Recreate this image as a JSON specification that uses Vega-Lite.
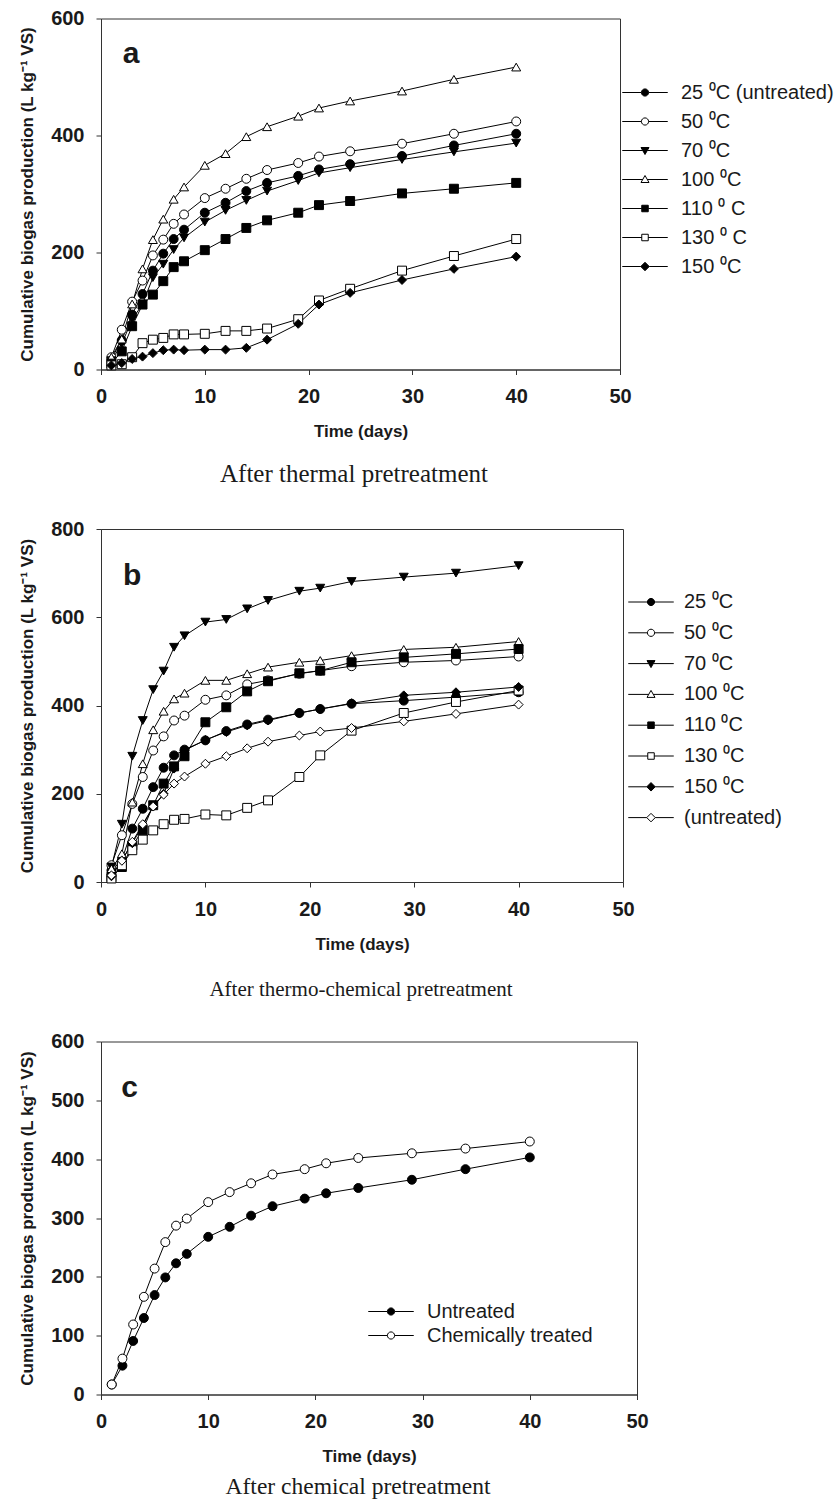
{
  "$schema": "https://vega.github.io/schema/vega-lite/v6.json",
  "background": "white",
  "padding": {"left": 18, "top": 7.5, "right": 2, "bottom": 2},
  "spacing": 30.5,
  "config": {
    "font": "Liberation Sans",
    "view": {"stroke": "#333333", "strokeWidth": 1},
    "axis": {"labelFont": "Liberation Sans", "labelFontWeight": "bold", "labelFontSize": 20, "labelColor": "#1a1a1a", "labelPadding": 12, "labelFlush": false, "labelOverlap": false, "titleFont": "Liberation Sans", "titleFontWeight": "bold", "titleFontSize": 17, "titleColor": "#1a1a1a", "domainColor": "#333333", "tickColor": "#333333", "tickSize": 5, "grid": false},
    "axisX": {"titlePadding": 17},
    "axisY": {"titlePadding": 14},
    "legend": {"labelFont": "Liberation Sans", "labelFontSize": 20, "labelColor": "#1a1a1a", "labelLimit": 400, "symbolSize": 100, "symbolStrokeColor": "black", "symbolStrokeWidth": 1, "symbolOpacity": 1, "padding": 0, "orient": "none"}
  },
  "datasets": {
    "a": [
      {"d": 1, "25 ⁰C (untreated)": 18, "50 ⁰C": 21, "70 ⁰C": 15, "100 ⁰C": 21, "110 ⁰ C": 10, "130 ⁰ C": 7, "150 ⁰C": 7},
      {"d": 2, "25 ⁰C (untreated)": 50, "50 ⁰C": 68, "70 ⁰C": 44, "100 ⁰C": 52, "110 ⁰ C": 31, "130 ⁰ C": 9, "150 ⁰C": 11},
      {"d": 3, "25 ⁰C (untreated)": 94, "50 ⁰C": 116, "70 ⁰C": 85, "100 ⁰C": 112, "110 ⁰ C": 74, "130 ⁰ C": 21, "150 ⁰C": 18},
      {"d": 4, "25 ⁰C (untreated)": 129, "50 ⁰C": 152, "70 ⁰C": 112, "100 ⁰C": 172, "110 ⁰ C": 111, "130 ⁰ C": 45, "150 ⁰C": 22},
      {"d": 5, "25 ⁰C (untreated)": 169, "50 ⁰C": 195, "70 ⁰C": 157, "100 ⁰C": 222, "110 ⁰ C": 128, "130 ⁰ C": 51, "150 ⁰C": 28},
      {"d": 6, "25 ⁰C (untreated)": 198, "50 ⁰C": 222, "70 ⁰C": 180, "100 ⁰C": 257, "110 ⁰ C": 151, "130 ⁰ C": 54, "150 ⁰C": 33},
      {"d": 7, "25 ⁰C (untreated)": 223, "50 ⁰C": 249, "70 ⁰C": 205, "100 ⁰C": 291, "110 ⁰ C": 175, "130 ⁰ C": 60, "150 ⁰C": 34},
      {"d": 8, "25 ⁰C (untreated)": 239, "50 ⁰C": 265, "70 ⁰C": 225, "100 ⁰C": 312, "110 ⁰ C": 185, "130 ⁰ C": 60, "150 ⁰C": 33},
      {"d": 10, "25 ⁰C (untreated)": 268, "50 ⁰C": 293, "70 ⁰C": 252, "100 ⁰C": 349, "110 ⁰ C": 204, "130 ⁰ C": 61, "150 ⁰C": 34},
      {"d": 12, "25 ⁰C (untreated)": 285, "50 ⁰C": 309, "70 ⁰C": 272, "100 ⁰C": 369, "110 ⁰ C": 223, "130 ⁰ C": 66, "150 ⁰C": 34},
      {"d": 14, "25 ⁰C (untreated)": 305, "50 ⁰C": 326, "70 ⁰C": 289, "100 ⁰C": 398, "110 ⁰ C": 242, "130 ⁰ C": 66, "150 ⁰C": 37},
      {"d": 16, "25 ⁰C (untreated)": 319, "50 ⁰C": 341, "70 ⁰C": 305, "100 ⁰C": 415, "110 ⁰ C": 255, "130 ⁰ C": 70, "150 ⁰C": 51},
      {"d": 19, "25 ⁰C (untreated)": 331, "50 ⁰C": 353, "70 ⁰C": 323, "100 ⁰C": 433, "110 ⁰ C": 268, "130 ⁰ C": 86, "150 ⁰C": 78},
      {"d": 21, "25 ⁰C (untreated)": 342, "50 ⁰C": 364, "70 ⁰C": 336, "100 ⁰C": 447, "110 ⁰ C": 281, "130 ⁰ C": 118, "150 ⁰C": 111},
      {"d": 24, "25 ⁰C (untreated)": 351, "50 ⁰C": 373, "70 ⁰C": 345, "100 ⁰C": 459, "110 ⁰ C": 288, "130 ⁰ C": 138, "150 ⁰C": 131},
      {"d": 29, "25 ⁰C (untreated)": 365, "50 ⁰C": 386, "70 ⁰C": 359, "100 ⁰C": 476, "110 ⁰ C": 301, "130 ⁰ C": 169, "150 ⁰C": 153},
      {"d": 34, "25 ⁰C (untreated)": 383, "50 ⁰C": 403, "70 ⁰C": 372, "100 ⁰C": 496, "110 ⁰ C": 309, "130 ⁰ C": 194, "150 ⁰C": 172},
      {"d": 40, "25 ⁰C (untreated)": 403, "50 ⁰C": 424, "70 ⁰C": 387, "100 ⁰C": 517, "110 ⁰ C": 319, "130 ⁰ C": 223, "150 ⁰C": 193}
    ],
    "b": [
      {"d": 1, "25 ⁰C": 26, "50 ⁰C": 38, "70 ⁰C": 34, "100 ⁰C": 30, "110 ⁰C": 11, "130 ⁰C": 8, "150 ⁰C": 13, "(untreated)": 15},
      {"d": 2, "25 ⁰C": 50, "50 ⁰C": 106, "70 ⁰C": 131, "100 ⁰C": 64, "110 ⁰C": 34, "130 ⁰C": 38, "150 ⁰C": 49, "(untreated)": 48},
      {"d": 3, "25 ⁰C": 121, "50 ⁰C": 177, "70 ⁰C": 285, "100 ⁰C": 181, "110 ⁰C": 83, "130 ⁰C": 72, "150 ⁰C": 88, "(untreated)": 91},
      {"d": 4, "25 ⁰C": 166, "50 ⁰C": 238, "70 ⁰C": 366, "100 ⁰C": 268, "110 ⁰C": 117, "130 ⁰C": 96, "150 ⁰C": 128, "(untreated)": 131},
      {"d": 5, "25 ⁰C": 215, "50 ⁰C": 298, "70 ⁰C": 436, "100 ⁰C": 345, "110 ⁰C": 174, "130 ⁰C": 117, "150 ⁰C": 171, "(untreated)": 171},
      {"d": 6, "25 ⁰C": 259, "50 ⁰C": 330, "70 ⁰C": 478, "100 ⁰C": 387, "110 ⁰C": 223, "130 ⁰C": 131, "150 ⁰C": 200, "(untreated)": 198},
      {"d": 7, "25 ⁰C": 287, "50 ⁰C": 366, "70 ⁰C": 532, "100 ⁰C": 415, "110 ⁰C": 262, "130 ⁰C": 141, "150 ⁰C": 257, "(untreated)": 223},
      {"d": 8, "25 ⁰C": 300, "50 ⁰C": 377, "70 ⁰C": 558, "100 ⁰C": 428, "110 ⁰C": 285, "130 ⁰C": 143, "150 ⁰C": 298, "(untreated)": 239},
      {"d": 10, "25 ⁰C": 321, "50 ⁰C": 413, "70 ⁰C": 589, "100 ⁰C": 457, "110 ⁰C": 362, "130 ⁰C": 153, "150 ⁰C": 322, "(untreated)": 268},
      {"d": 12, "25 ⁰C": 342, "50 ⁰C": 423, "70 ⁰C": 595, "100 ⁰C": 457, "110 ⁰C": 396, "130 ⁰C": 151, "150 ⁰C": 340, "(untreated)": 285},
      {"d": 14, "25 ⁰C": 357, "50 ⁰C": 448, "70 ⁰C": 619, "100 ⁰C": 472, "110 ⁰C": 432, "130 ⁰C": 168, "150 ⁰C": 355, "(untreated)": 303},
      {"d": 16, "25 ⁰C": 368, "50 ⁰C": 457, "70 ⁰C": 638, "100 ⁰C": 487, "110 ⁰C": 455, "130 ⁰C": 185, "150 ⁰C": 366, "(untreated)": 318},
      {"d": 19, "25 ⁰C": 383, "50 ⁰C": 472, "70 ⁰C": 659, "100 ⁰C": 498, "110 ⁰C": 473, "130 ⁰C": 238, "150 ⁰C": 383, "(untreated)": 332},
      {"d": 21, "25 ⁰C": 392, "50 ⁰C": 479, "70 ⁰C": 666, "100 ⁰C": 502, "110 ⁰C": 479, "130 ⁰C": 287, "150 ⁰C": 392, "(untreated)": 341},
      {"d": 24, "25 ⁰C": 404, "50 ⁰C": 489, "70 ⁰C": 681, "100 ⁰C": 513, "110 ⁰C": 498, "130 ⁰C": 343, "150 ⁰C": 405, "(untreated)": 349},
      {"d": 29, "25 ⁰C": 411, "50 ⁰C": 498, "70 ⁰C": 691, "100 ⁰C": 527, "110 ⁰C": 509, "130 ⁰C": 383, "150 ⁰C": 423, "(untreated)": 364},
      {"d": 34, "25 ⁰C": 419, "50 ⁰C": 502, "70 ⁰C": 700, "100 ⁰C": 532, "110 ⁰C": 517, "130 ⁰C": 408, "150 ⁰C": 430, "(untreated)": 381},
      {"d": 40, "25 ⁰C": 430, "50 ⁰C": 511, "70 ⁰C": 717, "100 ⁰C": 545, "110 ⁰C": 528, "130 ⁰C": 434, "150 ⁰C": 442, "(untreated)": 402}
    ],
    "c": [
      {"d": 1, "Untreated": 17, "Chemically treated": 17},
      {"d": 2, "Untreated": 49, "Chemically treated": 61},
      {"d": 3, "Untreated": 91, "Chemically treated": 119},
      {"d": 4, "Untreated": 130, "Chemically treated": 166},
      {"d": 5, "Untreated": 169, "Chemically treated": 214},
      {"d": 6, "Untreated": 199, "Chemically treated": 259},
      {"d": 7, "Untreated": 223, "Chemically treated": 287},
      {"d": 8, "Untreated": 239, "Chemically treated": 299},
      {"d": 10, "Untreated": 268, "Chemically treated": 327},
      {"d": 12, "Untreated": 285, "Chemically treated": 344},
      {"d": 14, "Untreated": 304, "Chemically treated": 359},
      {"d": 16, "Untreated": 320, "Chemically treated": 374},
      {"d": 19, "Untreated": 333, "Chemically treated": 383},
      {"d": 21, "Untreated": 342, "Chemically treated": 393},
      {"d": 24, "Untreated": 351, "Chemically treated": 402},
      {"d": 29, "Untreated": 365, "Chemically treated": 410},
      {"d": 34, "Untreated": 383, "Chemically treated": 418},
      {"d": 40, "Untreated": 403, "Chemically treated": 430}
    ]
  },
  "resolve": {"scale": {"shape": "independent", "fill": "independent"}},
  "vconcat": [
    {
      "title": {"text": "After thermal pretreatment", "orient": "bottom", "anchor": "middle", "frame": "group", "dx": 253, "font": "Liberation Serif", "fontSize": 25, "fontWeight": "normal", "color": "#1a1a1a", "offset": 22},
      "resolve": {"scale": {"shape": "independent", "fill": "independent"}},
      "vconcat": [
        {
          "width": 519,
          "height": 351,
          "data": {"name": "a"},
          "transform": [{"fold": ["25 ⁰C (untreated)", "50 ⁰C", "70 ⁰C", "100 ⁰C", "110 ⁰ C", "130 ⁰ C", "150 ⁰C"], "as": ["s", "v"]}],
          "encoding": {
            "x": {"field": "d", "type": "quantitative", "scale": {"domain": [0, 50], "nice": false}, "axis": {"values": [0, 10, 20, 30, 40, 50], "title": "Time (days)"}},
            "y": {"field": "v", "type": "quantitative", "scale": {"domain": [0, 600], "nice": false}, "axis": {"values": [0, 200, 400, 600], "title": "Cumulative biogas production (L kg⁻¹ VS)"}}
          },
          "resolve": {"scale": {"shape": "independent", "fill": "independent"}},
          "layer": [
            {"mark": {"type": "line", "color": "black", "strokeWidth": 1}, "encoding": {"detail": {"field": "s"}}},
            {"mark": {"type": "point", "filled": true, "stroke": "black", "strokeWidth": 1, "opacity": 1, "size": 80},
             "encoding": {
               "shape": {"field": "s", "scale": {"domain": ["25 ⁰C (untreated)", "50 ⁰C", "70 ⁰C", "100 ⁰C", "110 ⁰ C", "130 ⁰ C", "150 ⁰C"], "range": ["circle", "circle", "triangle-down", "triangle-up", "square", "square", "diamond"]}, "legend": null},
               "fill": {"field": "s", "scale": {"domain": ["25 ⁰C (untreated)", "50 ⁰C", "70 ⁰C", "100 ⁰C", "110 ⁰ C", "130 ⁰ C", "150 ⁰C"], "range": ["black", "white", "black", "white", "black", "white", "black"]}, "legend": null}
             }},
            {"transform": [{"filter": "datum.d < 0"}],
             "mark": {"type": "point", "filled": true, "stroke": "black", "strokeWidth": 1, "opacity": 1, "size": 100},
             "encoding": {
               "shape": {"field": "s", "scale": {"domain": ["25 ⁰C (untreated)", "50 ⁰C", "70 ⁰C", "100 ⁰C", "110 ⁰ C", "130 ⁰ C", "150 ⁰C"], "range": [
                 "M-4.55,0H-0.72M0.72,0H4.55M0.72,0A0.72,0.72,0,1,1,-0.72,0A0.72,0.72,0,1,1,0.72,0Z",
                 "M-4.55,0H-0.72M0.72,0H4.55M0.72,0A0.72,0.72,0,1,1,-0.72,0A0.72,0.72,0,1,1,0.72,0Z",
                 "M-4.55,0H-0.45M0.45,0H4.55M0,0.8L0.8,-0.6L-0.8,-0.6Z",
                 "M-4.55,0H-0.45M0.45,0H4.55M0,-0.8L0.8,0.6L-0.8,0.6Z",
                 "M-4.55,0H-0.65M0.65,0H4.55M-0.65,-0.65H0.65V0.65H-0.65Z",
                 "M-4.55,0H-0.65M0.65,0H4.55M-0.65,-0.65H0.65V0.65H-0.65Z",
                 "M-4.55,0H-0.85M0.85,0H4.55M0,-0.85L0.85,0L0,0.85L-0.85,0Z"]},
                 "legend": {"title": null, "orient": "none", "legendX": 534, "legendY": 64, "rowPadding": 9, "labelOffset": 26, "encode": {"symbols": {"update": {"stroke": {"value": "black"}, "strokeWidth": {"value": 1}}}}}},
               "fill": {"field": "s", "scale": {"domain": ["25 ⁰C (untreated)", "50 ⁰C", "70 ⁰C", "100 ⁰C", "110 ⁰ C", "130 ⁰ C", "150 ⁰C"], "range": ["black", "white", "black", "white", "black", "white", "black"]},
                 "legend": {"title": null, "orient": "none", "legendX": 534, "legendY": 64, "rowPadding": 9, "labelOffset": 26, "encode": {"symbols": {"update": {"stroke": {"value": "black"}, "strokeWidth": {"value": 1}}}}}}
             }},
            {"transform": [{"filter": "datum.d == 1"}, {"filter": {"field": "s", "equal": "50 ⁰C"}}],
             "mark": {"type": "text", "text": "a", "font": "Liberation Sans", "fontSize": 30, "fontWeight": "bold", "fill": "#1a1a1a", "align": "left", "baseline": "alphabetic"},
             "encoding": {"x": {"datum": 2.1, "type": "quantitative"}, "y": {"datum": 524, "type": "quantitative"}}}
          ]
        }
      ]
    },
    {
      "title": {"text": "After thermo-chemical pretreatment", "orient": "bottom", "anchor": "middle", "frame": "group", "dx": 260, "font": "Liberation Serif", "fontSize": 21, "fontWeight": "normal", "color": "#1a1a1a", "offset": 26},
      "resolve": {"scale": {"shape": "independent", "fill": "independent"}},
      "vconcat": [
        {
          "width": 522,
          "height": 353,
          "data": {"name": "b"},
          "transform": [{"fold": ["25 ⁰C", "50 ⁰C", "70 ⁰C", "100 ⁰C", "110 ⁰C", "130 ⁰C", "150 ⁰C", "(untreated)"], "as": ["s", "v"]}],
          "encoding": {
            "x": {"field": "d", "type": "quantitative", "scale": {"domain": [0, 50], "nice": false}, "axis": {"values": [0, 10, 20, 30, 40, 50], "title": "Time (days)"}},
            "y": {"field": "v", "type": "quantitative", "scale": {"domain": [0, 800], "nice": false}, "axis": {"values": [0, 200, 400, 600, 800], "title": "Cumulative biogas production (L kg⁻¹ VS)"}}
          },
          "resolve": {"scale": {"shape": "independent", "fill": "independent"}},
          "layer": [
            {"mark": {"type": "line", "color": "black", "strokeWidth": 1}, "encoding": {"detail": {"field": "s"}}},
            {"mark": {"type": "point", "filled": true, "stroke": "black", "strokeWidth": 1, "opacity": 1, "size": 80},
             "encoding": {
               "shape": {"field": "s", "scale": {"domain": ["25 ⁰C", "50 ⁰C", "70 ⁰C", "100 ⁰C", "110 ⁰C", "130 ⁰C", "150 ⁰C", "(untreated)"], "range": ["circle", "circle", "triangle-down", "triangle-up", "square", "square", "diamond", "diamond"]}, "legend": null},
               "fill": {"field": "s", "scale": {"domain": ["25 ⁰C", "50 ⁰C", "70 ⁰C", "100 ⁰C", "110 ⁰C", "130 ⁰C", "150 ⁰C", "(untreated)"], "range": ["black", "white", "black", "white", "black", "white", "black", "white"]}, "legend": null}
             }},
            {"transform": [{"filter": "datum.d < 0"}],
             "mark": {"type": "point", "filled": true, "stroke": "black", "strokeWidth": 1, "opacity": 1, "size": 100},
             "encoding": {
               "shape": {"field": "s", "scale": {"domain": ["25 ⁰C", "50 ⁰C", "70 ⁰C", "100 ⁰C", "110 ⁰C", "130 ⁰C", "150 ⁰C", "(untreated)"], "range": [
                 "M-4.55,0H-0.72M0.72,0H4.55M0.72,0A0.72,0.72,0,1,1,-0.72,0A0.72,0.72,0,1,1,0.72,0Z",
                 "M-4.55,0H-0.72M0.72,0H4.55M0.72,0A0.72,0.72,0,1,1,-0.72,0A0.72,0.72,0,1,1,0.72,0Z",
                 "M-4.55,0H-0.45M0.45,0H4.55M0,0.8L0.8,-0.6L-0.8,-0.6Z",
                 "M-4.55,0H-0.45M0.45,0H4.55M0,-0.8L0.8,0.6L-0.8,0.6Z",
                 "M-4.55,0H-0.65M0.65,0H4.55M-0.65,-0.65H0.65V0.65H-0.65Z",
                 "M-4.55,0H-0.65M0.65,0H4.55M-0.65,-0.65H0.65V0.65H-0.65Z",
                 "M-4.55,0H-0.85M0.85,0H4.55M0,-0.85L0.85,0L0,0.85L-0.85,0Z",
                 "M-4.55,0H-0.85M0.85,0H4.55M0,-0.85L0.85,0L0,0.85L-0.85,0Z"]},
                 "legend": {"title": null, "orient": "none", "legendX": 540, "legendY": 63, "rowPadding": 10.8, "labelOffset": 23, "encode": {"symbols": {"update": {"stroke": {"value": "black"}, "strokeWidth": {"value": 1}}}}}},
               "fill": {"field": "s", "scale": {"domain": ["25 ⁰C", "50 ⁰C", "70 ⁰C", "100 ⁰C", "110 ⁰C", "130 ⁰C", "150 ⁰C", "(untreated)"], "range": ["black", "white", "black", "white", "black", "white", "black", "white"]},
                 "legend": {"title": null, "orient": "none", "legendX": 540, "legendY": 63, "rowPadding": 10.8, "labelOffset": 23, "encode": {"symbols": {"update": {"stroke": {"value": "black"}, "strokeWidth": {"value": 1}}}}}}
             }},
            {"transform": [{"filter": "datum.d == 1"}, {"filter": {"field": "s", "equal": "50 ⁰C"}}],
             "mark": {"type": "text", "text": "b", "font": "Liberation Sans", "fontSize": 30, "fontWeight": "bold", "fill": "#1a1a1a", "align": "left", "baseline": "alphabetic"},
             "encoding": {"x": {"datum": 2.1, "type": "quantitative"}, "y": {"datum": 673, "type": "quantitative"}}}
          ]
        }
      ]
    },
    {
      "title": {"text": "After chemical pretreatment", "orient": "bottom", "anchor": "middle", "frame": "group", "dx": 257, "font": "Liberation Serif", "fontSize": 23.5, "fontWeight": "normal", "color": "#1a1a1a", "offset": 10},
      "resolve": {"scale": {"shape": "independent", "fill": "independent"}},
      "vconcat": [
        {
          "width": 536,
          "height": 353,
          "data": {"name": "c"},
          "transform": [{"fold": ["Untreated", "Chemically treated"], "as": ["s", "v"]}],
          "encoding": {
            "x": {"field": "d", "type": "quantitative", "scale": {"domain": [0, 50], "nice": false}, "axis": {"values": [0, 10, 20, 30, 40, 50], "title": "Time (days)"}},
            "y": {"field": "v", "type": "quantitative", "scale": {"domain": [0, 600], "nice": false}, "axis": {"values": [0, 100, 200, 300, 400, 500, 600], "title": "Cumulative biogas production (L kg⁻¹ VS)"}}
          },
          "resolve": {"scale": {"shape": "independent", "fill": "independent"}},
          "layer": [
            {"mark": {"type": "line", "color": "black", "strokeWidth": 1}, "encoding": {"detail": {"field": "s"}}},
            {"mark": {"type": "point", "filled": true, "stroke": "black", "strokeWidth": 1, "opacity": 1, "size": 80},
             "encoding": {
               "shape": {"field": "s", "scale": {"domain": ["Untreated", "Chemically treated"], "range": ["circle", "circle"]}, "legend": null},
               "fill": {"field": "s", "scale": {"domain": ["Untreated", "Chemically treated"], "range": ["black", "white"]}, "legend": null}
             }},
            {"transform": [{"filter": "datum.d < 0"}],
             "mark": {"type": "point", "filled": true, "stroke": "black", "strokeWidth": 1, "opacity": 1, "size": 100},
             "encoding": {
               "shape": {"field": "s", "scale": {"domain": ["Untreated", "Chemically treated"], "range": [
                 "M-4.55,0H-0.72M0.72,0H4.55M0.72,0A0.72,0.72,0,1,1,-0.72,0A0.72,0.72,0,1,1,0.72,0Z",
                 "M-4.55,0H-0.72M0.72,0H4.55M0.72,0A0.72,0.72,0,1,1,-0.72,0A0.72,0.72,0,1,1,0.72,0Z"]},
                 "legend": {"title": null, "orient": "none", "legendX": 280, "legendY": 260, "rowPadding": 4, "labelOffset": 26, "encode": {"symbols": {"update": {"stroke": {"value": "black"}, "strokeWidth": {"value": 1}}}}}},
               "fill": {"field": "s", "scale": {"domain": ["Untreated", "Chemically treated"], "range": ["black", "white"]},
                 "legend": {"title": null, "orient": "none", "legendX": 280, "legendY": 260, "rowPadding": 4, "labelOffset": 26, "encode": {"symbols": {"update": {"stroke": {"value": "black"}, "strokeWidth": {"value": 1}}}}}}
             }},
            {"transform": [{"filter": "datum.d == 1"}, {"filter": {"field": "s", "equal": "Untreated"}}],
             "mark": {"type": "text", "text": "c", "font": "Liberation Sans", "fontSize": 30, "fontWeight": "bold", "fill": "#1a1a1a", "align": "left", "baseline": "alphabetic"},
             "encoding": {"x": {"datum": 1.9, "type": "quantitative"}, "y": {"datum": 505, "type": "quantitative"}}}
          ]
        }
      ]
    }
  ]
}
